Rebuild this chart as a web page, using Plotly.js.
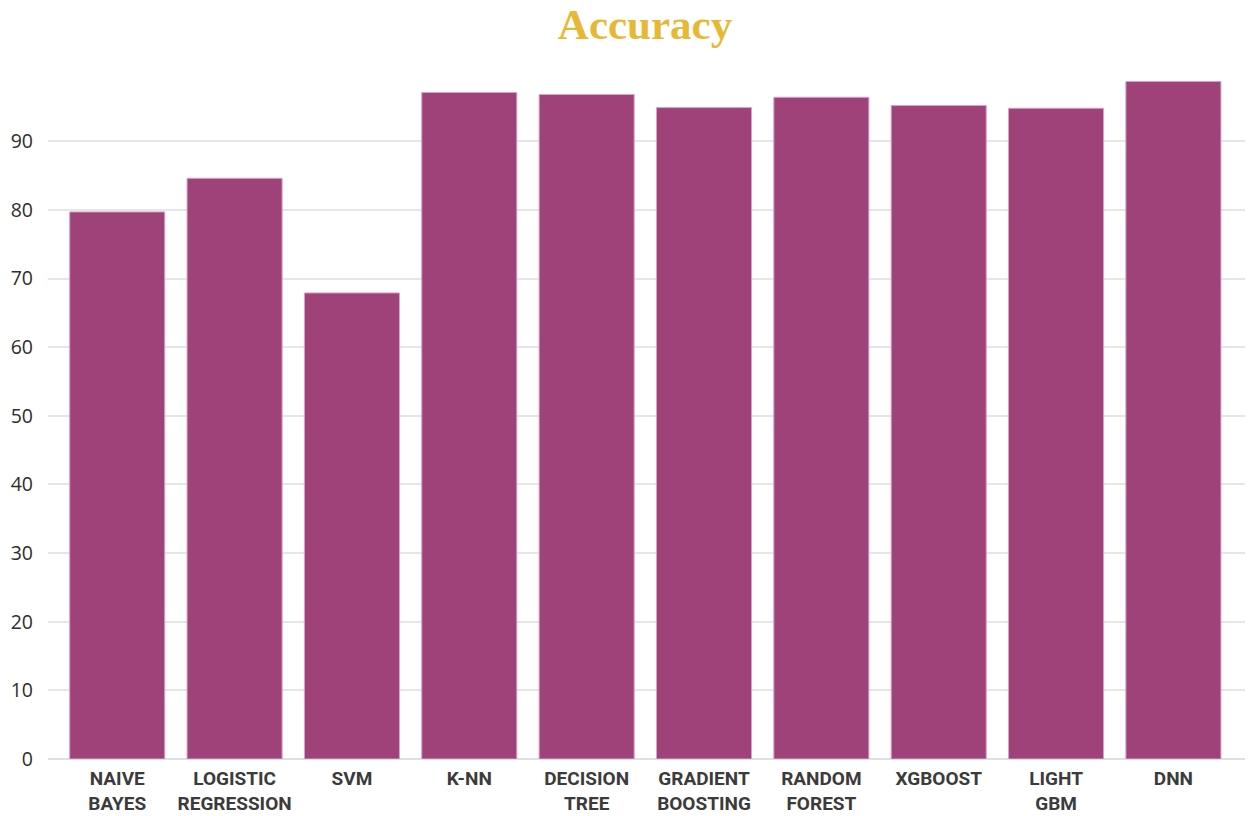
<!DOCTYPE html>
<html>
<head>
<meta charset="utf-8">
<script src="https://cdn.plot.ly/plotly-3.0.1.min.js"></script>
<style>
  html, body { margin: 0; padding: 0; background: #fff; }
  #chart { width: 1250px; height: 816px; }
</style>
</head>
<body>
<div id="chart"></div>
<script>
// model names and accuracy scores
let models = ['NAIVE<br>BAYES', 'LOGISTIC<br>REGRESSION', 'SVM', 'K-NN', 'DECISION<br>TREE',
  'GRADIENT<br>BOOSTING', 'RANDOM<br>FOREST', 'XGBOOST', 'LIGHT<br>GBM', 'DNN'];
let accuracy = [79.7, 84.6, 67.9, 97.1, 96.8, 94.9, 96.4, 95.2, 94.8, 98.7];
let yTicks = [0, 10, 20, 30, 40, 50, 60, 70, 80, 90];

let data = [{
  x: models,
  y: accuracy,
  type: 'bar',
  marker: {
    color: '#a0427a',
    line: { color: '#d8a3c4', width: 1 }
  },
  hoverinfo: 'x+y'
}];

let layout = {
  width: 1250,
  height: 816,
  paper_bgcolor: '#fff',
  plot_bgcolor: '#fff',
  margin: { l: 48, r: 5, t: 76, b: 57 },
  bargap: 0.19,
  showlegend: false,
  title: {
    text: '<b>Accuracy</b>',
    font: { family: 'Liberation Serif, serif', size: 43, color: '#e6b935' },
    x: 0.516,
    xanchor: 'center',
    y: 0.971,
    yanchor: 'middle'
  },
  xaxis: {
    type: 'category',
    range: [-0.59, 9.61],
    showgrid: false,
    showline: false,
    zeroline: false,
    ticks: '',
    ticklabelstandoff: 6,
    automargin: false,
    tickfont: { family: 'Roboto, sans-serif', size: 19, color: '#3b3b3b', weight: 'bold' }
  },
  yaxis: {
    range: [0, 99.5],
    tickvals: yTicks,
    showgrid: true,
    gridcolor: '#e3e7ec',
    gridwidth: 1.5,
    zeroline: true,
    zerolinecolor: '#dde1e6',
    zerolinewidth: 1.5,
    showline: false,
    ticks: '',
    ticklabelstandoff: 14,
    automargin: false,
    tickfont: { family: 'Open Sans, sans-serif', size: 19.5, color: '#2e2e2e' }
  }
};

Plotly.newPlot('chart', data, layout, { displayModeBar: false });
</script>
</body>
</html>
